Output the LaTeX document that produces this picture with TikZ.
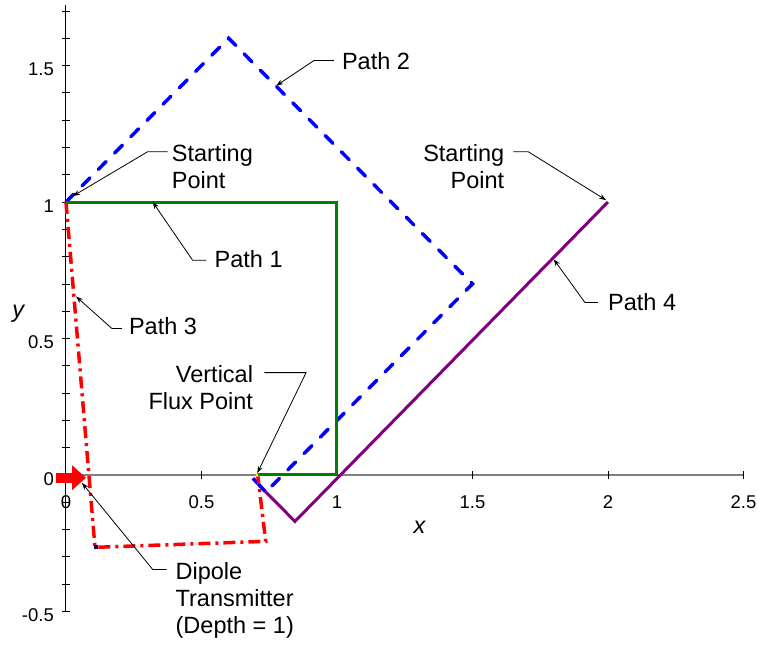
\documentclass[tikz,border=0pt]{standalone}
\usepackage{fontspec}
\setmainfont{Liberation Sans}
\usetikzlibrary{arrows.meta}
\definecolor{pathgreen}{RGB}{0,128,0}
\definecolor{pathblue}{RGB}{0,0,255}
\definecolor{pathred}{RGB}{255,0,0}
\definecolor{pathpurple}{RGB}{128,0,128}
\definecolor{axisgray}{RGB}{128,128,128}
\definecolor{markernavy}{RGB}{0,0,110}
\newcommand\calloutfont{\fontsize{23.5}{27}\selectfont}
\newcommand\ticklabel[3]{node[anchor=#2, inner sep=0pt, font=\fontsize{18.5}{22}\selectfont] (#1) {#3}}
\newcommand\callout[4]{node[anchor=base #2, align=#3, inner sep=0pt, font=\calloutfont] (#1) {#4}}

\begin{document}
\begin{tikzpicture}[x=271pt, y=273pt,
    leader/.style={draw=black, line width=0.8pt, -{Stealth[length=7pt, width=5pt]}}]
    \useasboundingbox (-0.2435,-0.623) rectangle (2.550,1.740);

    % Оси
    \draw[line width=1pt] (0,-0.5) -- (0,1.72);
    \foreach \k in {-5,...,17}
        \draw[line width=0.8pt] (-0.013,\k/10) -- (0.013,\k/10);
    \draw[axisgray, line width=1.5pt] (0,0) -- (2.5,0);
    \foreach \v in {0.5,1,1.5,2,2.5}
        \draw[line width=0.8pt] (\v,-0.015) -- (\v,0.015);

    % Подписи делений
    \foreach \v [count=\i] in {0,0.5,1,1.5,2,2.5}
        \path (\v,-0.121) \ticklabel{xt\i}{base}{\v};
    \foreach \v [count=\i] in {-0.5,0,0.5,1,1.5}
        \path (-0.044,\v-0.037) \ticklabel{yt\i}{base east}{\v};
    \node[anchor=base, inner sep=0pt, font=\fontsize{23.5}{27}\selectfont\itshape] (xlab) at (1.305,-0.213) {x};
    \node[anchor=base, inner sep=0pt, font=\fontsize{23.5}{27}\selectfont\itshape] (ylab) at (-0.176,0.577) {y};

    % Путь 2
    \draw[pathblue, line width=3.5pt, dash pattern=on 11pt off 12pt, line cap=round]
        (0,1) -- (0.6,1.6) -- (1.5,0.7) -- (0.76,-0.04);
    \draw[pathblue, line width=3.5pt] (0.69,-0.012) -- (0.735,-0.06);

    % Путь 4
    \draw[pathpurple, line width=3pt] (2,1) -- (0.845,-0.17) -- (0.735,-0.06);

    % Путь 3
    \draw[pathred, line width=3.5pt, dash pattern=on 12pt off 5pt on 3pt off 5pt]
        (0,1) -- (0.107,-0.265) -- (0.737,-0.243) -- (0.708,-0.005);

    % Путь 1
    \draw[pathgreen, line width=3pt] (0,1) -- (1,1) -- (1,0) -- (0.705,0);

    % Метки
    \fill[yellow] (0.705,0) circle (1.6pt);
    \fill[markernavy] ([shift={(-1pt,-2pt)}]0.107,-0.265) rectangle +(4pt,4pt);
    \draw[pathred, line width=10pt, -{Triangle[length=14pt, width=24pt]}] (-0.037,-0.01) -- (0.074,-0.01);

    % Выноски
    \path (0.390,1.048) \callout{startL}{west}{left}{Starting\\Point};
    \coordinate (startL-s) at (0.375,1.184);
    \coordinate (startL-e) at (0.301,1.184);
    \coordinate (startL-t) at (0.026,1.022);
    \draw[leader] (startL-s) -- (startL-e) -- (startL-t);

    \path (0.548,0.761) \callout{pathA}{west}{left}{Path 1};
    \coordinate (pathA-s) at (0.518,0.787);
    \coordinate (pathA-e) at (0.467,0.787);
    \coordinate (pathA-t) at (0.320,1.0);
    \draw[leader] (pathA-s) -- (pathA-e) -- (pathA-t);

    \path (1.018,1.485) \callout{pathB}{west}{left}{Path 2};
    \coordinate (pathB-s) at (0.989,1.518);
    \coordinate (pathB-e) at (0.915,1.518);
    \coordinate (pathB-t) at (0.776,1.426);
    \draw[leader] (pathB-s) -- (pathB-e) -- (pathB-t);

    \path (0.232,0.515) \callout{pathC}{west}{left}{Path 3};
    \coordinate (pathC-s) at (0.206,0.537);
    \coordinate (pathC-e) at (0.169,0.537);
    \coordinate (pathC-t) at (0.037,0.654);
    \draw[leader] (pathC-s) -- (pathC-e) -- (pathC-t);

    \path (2.0,0.603) \callout{pathD}{west}{left}{Path 4};
    \coordinate (pathD-s) at (1.963,0.632);
    \coordinate (pathD-e) at (1.915,0.632);
    \coordinate (pathD-t) at (1.800,0.790);
    \draw[leader] (pathD-s) -- (pathD-e) -- (pathD-t);

    \path (1.618,1.051) \callout{startR}{east}{right}{Starting\\Point};
    \coordinate (startR-s) at (1.651,1.184);
    \coordinate (startR-e) at (1.706,1.184);
    \coordinate (startR-t) at (1.993,1.007);
    \draw[leader] (startR-s) -- (startR-e) -- (startR-t);

    \path (0.691,0.239) \callout{flux}{east}{right}{Vertical\\Flux Point};
    \coordinate (flux-s) at (0.732,0.375);
    \coordinate (flux-e) at (0.886,0.375);
    \coordinate (flux-t) at (0.706,0.007);
    \draw[leader] (flux-s) -- (flux-e) -- (flux-t);

    \path (0.404,-0.580) \callout{dipole}{west}{left}{Dipole\\Transmitter\\(Depth = 1)};
    \coordinate (dipole-s) at (0.371,-0.346);
    \coordinate (dipole-e) at (0.320,-0.346);
    \coordinate (dipole-t) at (0.059,-0.029);
    \draw[leader] (dipole-s) -- (dipole-e) -- (dipole-t);
\end{tikzpicture}
\end{document}
